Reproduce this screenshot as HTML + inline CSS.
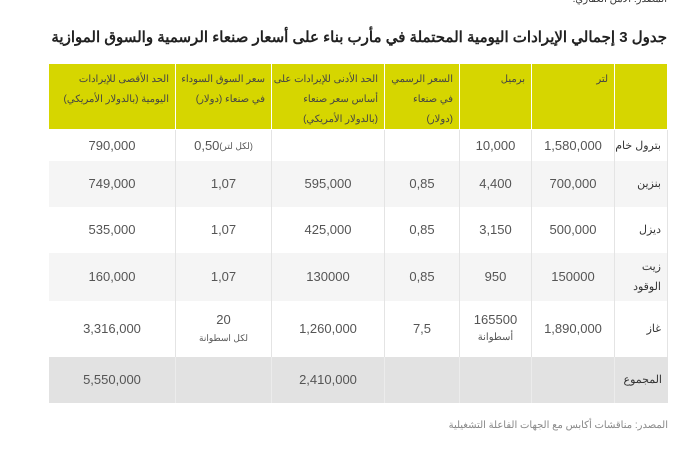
<!DOCTYPE html>
<html><head><meta charset="utf-8"><style>
body{margin:0;width:681px;height:449px;background:#fff;position:relative;overflow:hidden;font-family:"Liberation Sans","Noto Sans CJK SC",sans-serif;}
.a{position:absolute}
.hd{position:absolute;top:64px;height:65px;background:#d6d600;border-right:1px solid #fff;box-sizing:border-box;direction:rtl;text-align:right;font-size:10px;line-height:20px;color:#444;padding:6px 6px 0 0}
.row{position:absolute;left:49px;width:619px}
.c{position:absolute;top:0;bottom:0;border-right:1px solid #e4e4e4;box-sizing:border-box;display:flex;align-items:center;justify-content:center;text-align:center;font-size:13px;color:#555;line-height:18px}
.lab{display:block;padding:0 6px 0 0;font-size:11px;direction:rtl;text-align:right;color:#333;white-space:nowrap}
.lab span{position:absolute;right:6px;top:50%;transform:translateY(-50%)}
</style></head><body>
<div class="a" style="right:14px;top:-6px;font-size:10px;color:#333;direction:rtl">المصدر: الأمن العقاري.</div>
<div class="a" style="right:14px;top:28px;font-size:15px;font-weight:bold;color:#222;direction:rtl">جدول 3 إجمالي الإيرادات اليومية المحتملة في مأرب بناء على أسعار صنعاء الرسمية والسوق الموازية</div>

<div class="hd" style="left:49px;width:127px">الحد الأقصى للإيرادات<br>اليومية (بالدولار الأمريكي)</div>
<div class="hd" style="left:176px;width:96px">سعر السوق السوداء<br>في صنعاء (دولار)</div>
<div class="hd" style="left:272px;width:113px">الحد الأدنى للإيرادات على<br>أساس سعر صنعاء<br>(بالدولار الأمريكي)</div>
<div class="hd" style="left:385px;width:75px">السعر الرسمي<br>في صنعاء<br>(دولار)</div>
<div class="hd" style="left:460px;width:72px">برميل</div>
<div class="hd" style="left:532px;width:83px">لتر</div>
<div class="hd" style="left:615px;width:53px"></div>

<div class="row" style="top:130px;height:31px;background:#fff">
<div class="c" style="left:0;width:127px">790,000</div><div class="c" style="left:127px;width:96px">0,50 <span style="font-size:9px">(لكل لتر)</span></div><div class="c" style="left:223px;width:113px"></div><div class="c" style="left:336px;width:75px"></div><div class="c" style="left:411px;width:72px">10,000</div><div class="c" style="left:483px;width:83px">1,580,000</div><div class="c lab" style="left:566px;width:53px"><span>بترول خام</span></div></div>
<div class="row" style="top:161px;height:46px;background:#f5f5f5">
<div class="c" style="left:0;width:127px">749,000</div><div class="c" style="left:127px;width:96px">1,07</div><div class="c" style="left:223px;width:113px">595,000</div><div class="c" style="left:336px;width:75px">0,85</div><div class="c" style="left:411px;width:72px">4,400</div><div class="c" style="left:483px;width:83px">700,000</div><div class="c lab" style="left:566px;width:53px"><span>بنزين</span></div></div>
<div class="row" style="top:207px;height:46px;background:#fff">
<div class="c" style="left:0;width:127px">535,000</div><div class="c" style="left:127px;width:96px">1,07</div><div class="c" style="left:223px;width:113px">425,000</div><div class="c" style="left:336px;width:75px">0,85</div><div class="c" style="left:411px;width:72px">3,150</div><div class="c" style="left:483px;width:83px">500,000</div><div class="c lab" style="left:566px;width:53px"><span>ديزل</span></div></div>
<div class="row" style="top:253px;height:48px;background:#f5f5f5">
<div class="c" style="left:0;width:127px">160,000</div><div class="c" style="left:127px;width:96px">1,07</div><div class="c" style="left:223px;width:113px">130000</div><div class="c" style="left:336px;width:75px">0,85</div><div class="c" style="left:411px;width:72px">950</div><div class="c" style="left:483px;width:83px">150000</div><div class="c lab" style="left:566px;width:53px"><span style="line-height:20px">زيت<br>الوقود</span></div></div>
<div class="row" style="top:301px;height:56px;background:#fff">
<div class="c" style="left:0;width:127px">3,316,000</div><div class="c" style="left:127px;width:96px;flex-direction:column">20<span style="font-size:9px">لكل اسطوانة</span></div><div class="c" style="left:223px;width:113px">1,260,000</div><div class="c" style="left:336px;width:75px">7,5</div><div class="c" style="left:411px;width:72px;flex-direction:column">165500<span style="font-size:10px">أسطوانة</span></div><div class="c" style="left:483px;width:83px">1,890,000</div><div class="c lab" style="left:566px;width:53px"><span>غاز</span></div></div>
<div class="row" style="top:357px;height:46px;background:#e2e2e2">
<div class="c" style="left:0;width:127px;border-color:#ececec">5,550,000</div><div class="c" style="left:127px;width:96px;border-color:#ececec"></div><div class="c" style="left:223px;width:113px;border-color:#ececec">2,410,000</div><div class="c" style="left:336px;width:75px;border-color:#ececec"></div><div class="c" style="left:411px;width:72px;border-color:#ececec"></div><div class="c" style="left:483px;width:83px;border-color:#ececec"></div><div class="c lab" style="left:566px;width:53px;border:none"><span>المجموع</span></div></div>

<div class="a" style="right:13px;top:420px;font-size:10px;color:#888;direction:rtl">المصدر: مناقشات أكابس مع الجهات الفاعلة التشغيلية</div>
</body></html>
